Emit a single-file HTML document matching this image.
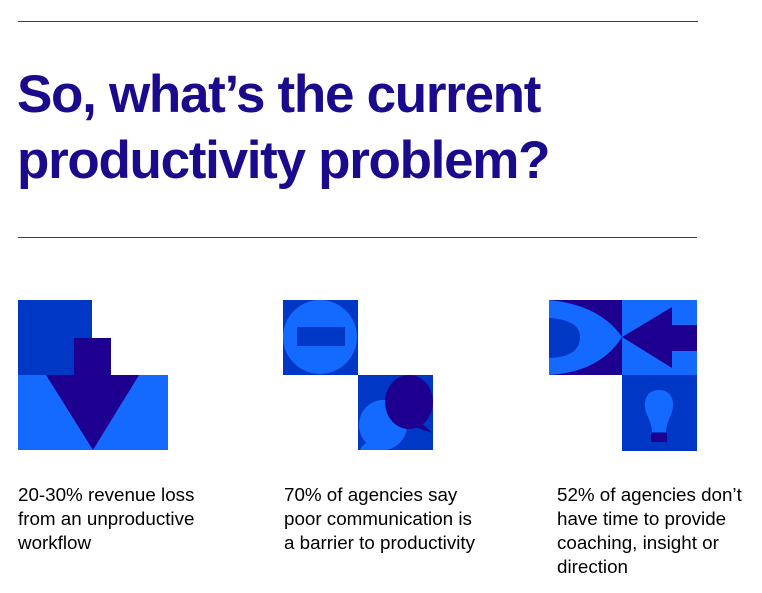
<!DOCTYPE html>
<html><head><style>
body{margin:0;width:762px;height:593px;background:#fff;position:relative;overflow:hidden;font-family:"Liberation Sans",Arial,sans-serif}
.hr{position:absolute;left:18px;height:1px;background:#3a2a9a}
h1{position:absolute;left:17px;top:62px;margin:0;font-size:53px;line-height:66px;font-weight:bold;color:#1a0b8c;letter-spacing:-1.3px}
.t{position:absolute;top:483px;font-size:18.8px;line-height:24px;color:#000}
svg{position:absolute;left:0;top:0}
</style></head><body>
<div class="hr" style="top:21px;width:680px"></div>
<h1>So, what’s the current<br>productivity problem?</h1>
<div class="hr" style="top:237px;width:679px"></div>
<svg width="762" height="593">
<rect x="18" y="300" width="74" height="75" fill="#0037c4"/>
<rect x="18" y="375" width="150" height="75" fill="#1469ff"/>
<rect x="74" y="338" width="37" height="37" fill="#1d0090"/>
<polygon points="46,375 139,375 93,450" fill="#1d0090"/>
<rect x="283" y="300" width="75" height="75" fill="#0037c4"/>
<ellipse cx="320" cy="337" rx="37" ry="37" fill="#1469ff"/>
<rect x="297" y="327" width="48" height="19" fill="#0037c4"/>
<rect x="358" y="375" width="75" height="75" fill="#0037c4"/>
<ellipse cx="383" cy="425" rx="24" ry="25" fill="#1469ff"/>
<polygon points="362,446 370,440 380,450 360,450" fill="#1469ff"/>
<ellipse cx="409" cy="402" rx="24" ry="27" fill="#1d0090"/>
<polygon points="410,425 432,433 418,420" fill="#1d0090"/>
<rect x="549" y="300" width="73" height="75" fill="#1d0090"/>
<path d="M549,300 Q600,305 622,337 Q600,372 549,375 Z" fill="#1469ff"/>
<path d="M549,318 Q580,320 580,337 Q580,357 549,358 Z" fill="#0037c4"/>
<rect x="622" y="300" width="75" height="75" fill="#1469ff"/>
<polygon points="622,337 672,307 672,325 697,325 697,351 672,351 672,368" fill="#1d0090"/>
<rect x="622" y="375" width="75" height="76" fill="#0037c4"/>
<path d="M659,390 C672,390 676,402 671,415 C667,423 666,428 666,432 L652,432 C652,428 651,423 647,415 C642,402 646,390 659,390 Z" fill="#1469ff"/>
<rect x="651" y="433" width="16" height="9" fill="#1d0090"/>
</svg>
<div class="t" style="left:18px">20-30% revenue loss<br>from an unproductive<br>workflow</div>
<div class="t" style="left:284px">70% of agencies say<br>poor communication is<br>a barrier to productivity</div>
<div class="t" style="left:557px">52% of agencies don’t<br>have time to provide<br>coaching, insight or<br>direction</div>
</body></html>
